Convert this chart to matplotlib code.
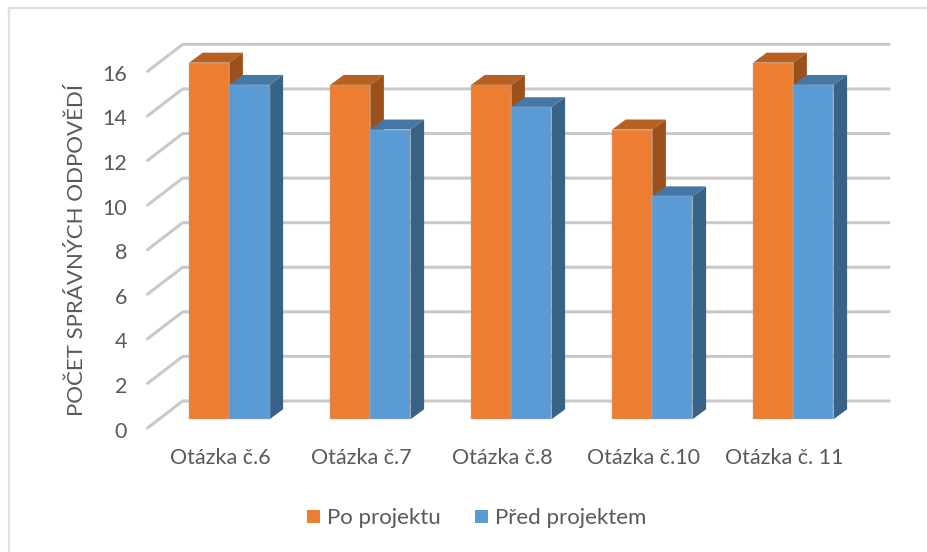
import matplotlib
matplotlib.use('Agg')
import matplotlib.pyplot as plt
from matplotlib.patches import Polygon, Rectangle

plt.rcParams['font.family'] = ['Lato', 'DejaVu Sans']

categories = ['Otázka č.6', 'Otázka č.7', 'Otázka č.8', 'Otázka č.10', 'Otázka č. 11']
po_projektu = [16, 15, 15, 13, 16]
pred_projektem = [15, 13, 14, 10, 15]
yticks = [0, 2, 4, 6, 8, 10, 12, 14, 16]

W, H = 928, 552
# pixel scale of the front plane of the bars
X0, XSTEP = 229.3, 141.0
Y0, YSTEP = 419.3, 22.29
BAR_W = 40.2 / XSTEP
# depth of the bars and of the back wall, in data units
BAR_DX, BAR_DY = 13.6 / XSTEP, 10.0 / YSTEP
WALL_DY = 18.3 / YSTEP
TICK_DY = -8.7 / YSTEP

TEXT = '#595959'
GRID = '#c9c9c9'


def px(x):
    return (x - X0) / XSTEP


def py(y):
    return (Y0 - y) / YSTEP


fig = plt.figure(figsize=(W / 100, H / 100), dpi=100)
ax = fig.add_axes([0, 0, 1, 1])
ax.set_xlim(px(0), px(W))
ax.set_ylim(py(H), py(0))
ax.axis('off')

# chart frame, only top and left are visible
ax.plot([px(9), px(9), None, px(9), px(928)], [py(552), py(8.5), None, py(8.5), py(8.5)],
        color='#e0e0e0', lw=1.6, zorder=0)

# walls: back gridlines plus the diagonal floor lines on the left
for v in yticks:
    ax.plot([px(147.5), px(182.7), px(889)],
            [v + TICK_DY, v + WALL_DY, v + WALL_DY],
            color=GRID, lw=2.2, solid_capstyle='round', solid_joinstyle='round', zorder=1)
    ax.text(px(127), v + TICK_DY - 3.5 / YSTEP, str(v), ha='right', va='center',
            fontsize=15.5, color=TEXT)


def bar3d(x, h, front, top, side):
    ax.bar(x, h, BAR_W, align='edge', color=front, ec='#b0b0b0', lw=0.3, zorder=3)
    ax.add_patch(Polygon([(x, h), (x + BAR_W, h), (x + BAR_W + BAR_DX, h + BAR_DY), (x + BAR_DX, h + BAR_DY)],
                         fc=top, ec='none', zorder=2.5))
    ax.add_patch(Polygon([(x + BAR_W, 0), (x + BAR_W + BAR_DX, BAR_DY), (x + BAR_W + BAR_DX, h + BAR_DY), (x + BAR_W, h)],
                         fc=side, ec='none', zorder=2.5))


for i, (a, b) in enumerate(zip(po_projektu, pred_projektem)):
    # orange first, the blue front and top cover its side face
    bar3d(i - BAR_W, a, '#ed7d31', '#b85f22', '#9c501c')
    bar3d(i, b, '#5b9bd5', '#4678a6', '#396287')
    ax.text(i - 0.062, py(458.5), categories[i], ha='center', va='center', fontsize=15.5, color=TEXT)

ax.text(px(77), py(250), 'POČET SPRÁVNÝCH ODPOVĚDÍ', rotation=90,
        ha='center', va='center', fontsize=16, color=TEXT)

# legend
ax.add_patch(Rectangle((px(307), py(523)), 13 / XSTEP, 13 / YSTEP, fc='#ed7d31', ec='none'))
ax.text(px(327), py(518), 'Po projektu', va='center', fontsize=16, color=TEXT)
ax.add_patch(Rectangle((px(475), py(523)), 13 / XSTEP, 13 / YSTEP, fc='#5b9bd5', ec='none'))
ax.text(px(495), py(518), 'Před projektem', va='center', fontsize=16, color=TEXT)

fig.savefig('out.png', dpi=100)
